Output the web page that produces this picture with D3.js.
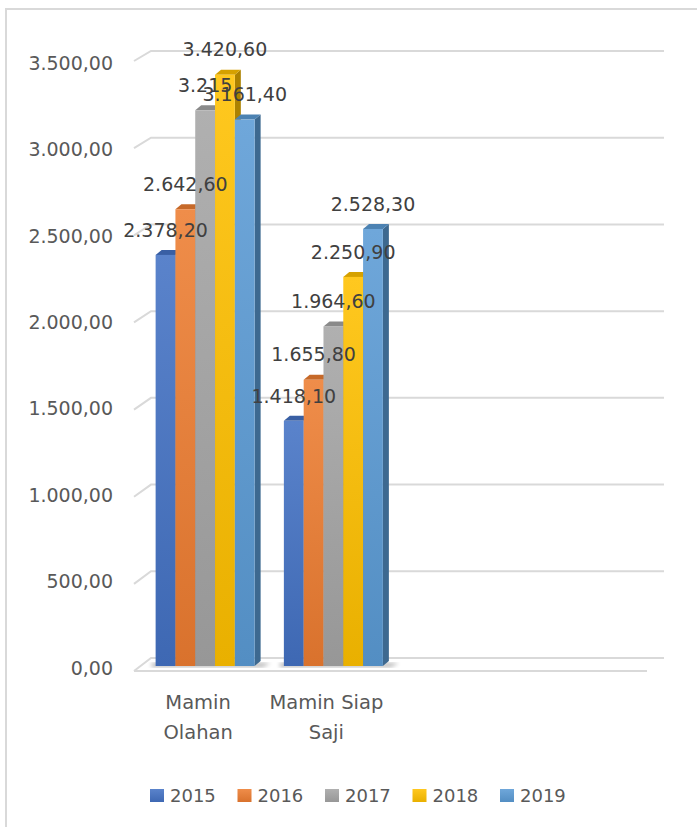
<!DOCTYPE html>
<html>
<head>
<meta charset="utf-8">
<script src="https://cdn.jsdelivr.net/npm/d3@7"></script>
<style>
  body { margin: 0; background: #fff; }
  svg { display: block; font-family: "DejaVu Sans", sans-serif; }
</style>
</head>
<body>
<script>
// data
var years = ['2015', '2016', '2017', '2018', '2019'];
var categories = ['Mamin Olahan', 'Mamin Siap Saji'];
var categoryLines = [['Mamin', 'Olahan'], ['Mamin Siap', 'Saji']];
var olahan = [2378.20, 2642.60, 3215, 3420.60, 3161.40];
var siapSaji = [1418.10, 1655.80, 1964.60, 2250.90, 2528.30];
var yTicks = [0, 500, 1000, 1500, 2000, 2500, 3000, 3500];
var slotCount = 4; // the source sheet had two empty category rows
var colors = ['#4472C4', '#ED7D31', '#A5A5A5', '#FFC000', '#5B9BD5'];

var series = [olahan, siapSaji];

var w = 697, h = 827;
var floorDX = 17, floorDY = 13;   // depth of the floor
var barDX = 6, barDY = 5;         // depth of a column
var barShift = 7;                 // columns sit a bit back on the floor

var locale = d3.formatLocale({decimal: ',', thousands: '.', grouping: [3], currency: ['', '']});
var fmt2 = locale.format(',.2f');
var fmtInt = locale.format(',d');
function labelText(v) { return Number.isInteger(v) ? fmtInt(v) : fmt2(v); }

var svg = d3.select('body').append('svg')
    .attr('width', w).attr('height', h);

// frame
svg.append('path')
   .attr('d', 'M6,' + h + 'V9H' + w)
   .attr('fill', 'none').attr('stroke', '#d9d9d9').attr('stroke-width', 2);

var defs = svg.append('defs');
colors.forEach(function(c, i) {
    var g = defs.append('linearGradient').attr('id', 'g' + i)
        .attr('x1', 0).attr('y1', 0).attr('x2', 0).attr('y2', 1);
    g.append('stop').attr('offset', 0).attr('stop-color', d3.interpolateRgb(c, '#fff')(0.12));
    g.append('stop').attr('offset', 1).attr('stop-color', d3.color(c).darker(0.25));
});
defs.append('filter').attr('id', 'blur')
    .append('feGaussianBlur').attr('stdDeviation', 2);

var xFront = d3.scaleBand()
    .domain(d3.range(slotCount))
    .range([134, 647])
    .paddingInner(0.228)
    .paddingOuter(0.114);
var x1 = d3.scaleBand().domain(years).range([0, xFront.bandwidth()]);

var yBar = d3.scaleLinear().domain([0, 3500]).range([666, 61]);
var yFront = d3.scaleLinear().domain([0, 3500]).range([671, 61]);
var yBack = d3.scaleLinear().domain([0, 3500]).range([658, 51]);

var x0 = xFront.range()[0], xEnd = xFront.range()[1];

// walls / gridlines
var grid = svg.append('g').attr('fill', 'none').attr('stroke', '#d9d9d9').attr('stroke-width', 2);
grid.selectAll('path.gl')
    .data(yTicks)
    .enter().append('path')
    .attr('class', 'gl')
    .attr('d', function(d) {
        return 'M' + x0 + ',' + yFront(d) + 'L' + (x0 + floorDX) + ',' + yBack(d) +
               'H' + (xEnd + floorDX);
    });
grid.append('path')
    .attr('d', 'M' + x0 + ',' + yFront(0) + 'H' + xEnd);

// y labels
svg.append('g').selectAll('text')
    .data(yTicks)
    .enter().append('text')
    .attr('x', 113)
    .attr('y', function(d) { return yBar(d) + 2; })
    .attr('dy', '0.35em')
    .attr('text-anchor', 'end')
    .attr('font-size', 19)
    .attr('fill', '#595959')
    .text(function(d) { return fmt2(d); });

// floor shadows under the column groups
svg.append('g').selectAll('path')
    .data(categories)
    .enter().append('path')
    .attr('d', function(d, ci) {
        var xl = xFront(ci) + barShift - 4;
        var xr = xFront(ci) + barShift + xFront.bandwidth() + barDX + 10;
        return 'M' + xl + ',' + (yBar(0) - 3) + 'H' + xr + 'L' + (xr - 8) + ',' + (yBar(0) + 1) + 'H' + xl + 'Z';
    })
    .attr('fill', '#000').attr('opacity', 0.3).attr('filter', 'url(#blur)');

// columns
var bars = [];
categories.forEach(function(c, ci) {
    years.forEach(function(yr, si) {
        bars.push({ci: ci, si: si, v: series[ci][si]});
    });
});

var barG = svg.append('g');
bars.forEach(function(d) {
    var x = xFront(d.ci) + barShift + x1(years[d.si]);
    var bw = x1.bandwidth();
    var yt = yBar(d.v), yb = yBar(0);
    var base = d3.color(colors[d.si]);
    barG.append('polygon')
        .attr('points', [[x + bw, yt], [x + bw + barDX, yt - barDY], [x + bw + barDX, yb - barDY], [x + bw, yb]].join(' '))
        .attr('fill', base.darker(1.1));
    barG.append('polygon')
        .attr('points', [[x, yt], [x + barDX, yt - barDY], [x + bw + barDX, yt - barDY], [x + bw, yt]].join(' '))
        .attr('fill', base.darker(0.5));
    barG.append('rect')
        .attr('x', x).attr('y', yt)
        .attr('width', bw).attr('height', yb - yt)
        .attr('fill', 'url(#g' + d.si + ')');
});

// value labels
svg.append('g').selectAll('text')
    .data(bars)
    .enter().append('text')
    .attr('x', function(d) { return xFront(d.ci) + barShift + x1(years[d.si]) + x1.bandwidth() / 2; })
    .attr('y', function(d) { return yBar(d.v) - 25; })
    .attr('dy', '0.35em')
    .attr('text-anchor', 'middle')
    .attr('font-size', 19)
    .attr('fill', '#404040')
    .text(function(d) { return labelText(d.v); });

// category labels
var catG = svg.append('g').selectAll('text')
    .data(categories)
    .enter().append('text')
    .attr('text-anchor', 'middle')
    .attr('font-size', 19.5)
    .attr('fill', '#595959');
catG.each(function(d, ci) {
    var t = d3.select(this);
    categoryLines[ci].forEach(function(line, li) {
        t.append('tspan')
         .attr('x', xFront(ci) + xFront.bandwidth() / 2)
         .attr('y', 702 + li * 30)
         .attr('dy', '0.35em')
         .text(line);
    });
});

// legend
var legend = svg.append('g').selectAll('g')
    .data(years)
    .enter().append('g')
    .attr('transform', function(d, i) { return 'translate(' + (150 + i * 87.5) + ',789)'; });
legend.append('rect')
    .attr('width', 14).attr('height', 13)
    .attr('fill', function(d, i) { return 'url(#g' + i + ')'; });
legend.append('text')
    .attr('x', 20).attr('y', 7)
    .attr('dy', '0.35em')
    .attr('font-size', 18)
    .attr('fill', '#595959')
    .text(function(d) { return d; });
</script>
</body>
</html>
